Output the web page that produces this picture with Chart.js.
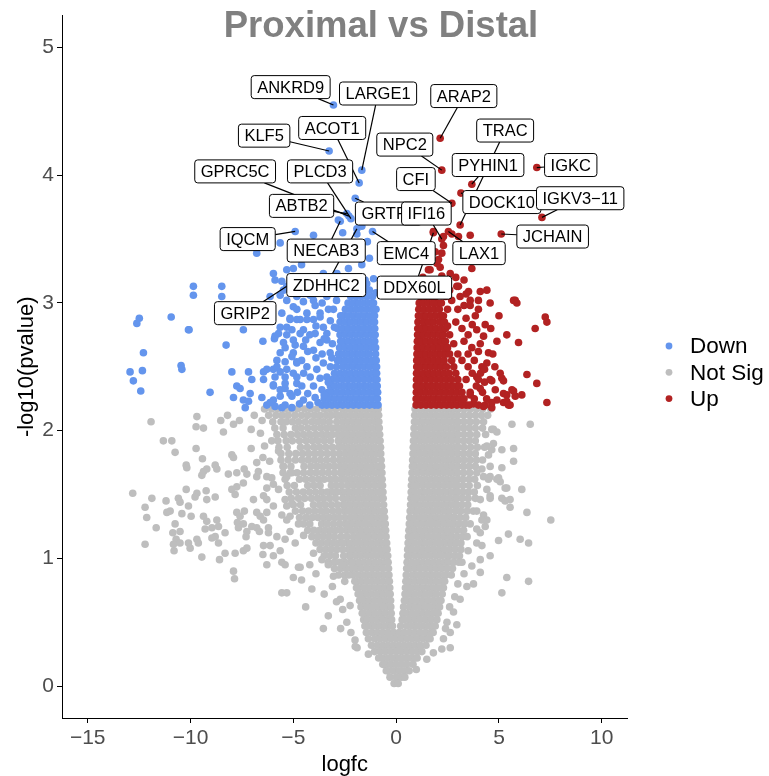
<!DOCTYPE html>
<html><head><meta charset="utf-8">
<script src="https://cdn.jsdelivr.net/npm/chart.js@4/dist/chart.umd.min.js"></script>
<style>html,body{margin:0;padding:0;background:#fff;}#wrap{width:769px;height:776px;}</style>
</head><body><div id="wrap"><canvas id="c" width="769" height="776"></canvas></div>
<script>
// ---------------- DATA ----------------
const categories = ['Down', 'Not Sig', 'Up'];
const xTicks = [-15, -10, -5, 0, 5, 10];
const yTicks = [0, 1, 2, 3, 4, 5];

// Not Sig: dense rows, each [-log10(pvalue), [logfc, ...]]
const notSigRows = [
[2.17,[-2.93,-2.6,-2.34,-2.08,-1.82,-1.56,-1.3,-1.04,-0.87,0.92,1.04,1.3,1.56,1.82,2.08,2.34,2.6,2.86,3.02]],
[2.12,[-2.91,-2.73,-2.47,-2.21,-1.95,-1.69,-1.43,-1.17,-0.98,-0.85,0.9,1.17,1.43,1.69,1.95,2.21,2.47,2.73,2.99]],
[2.07,[-2.89,-2.6,-2.34,-2.08,-1.82,-1.56,-1.3,-1.04,-0.84,0.89,1.04,1.3,1.56,1.82,2.08,2.34,2.6,2.86,3.02]],
[2.02,[-2.87,-2.73,-2.47,-2.21,-1.95,-1.69,-1.43,-1.17,-0.91,-0.82,0.87,1.17,1.43,1.69,1.95,2.21,2.47,2.73,3.0]],
[1.97,[-2.85,-2.6,-2.34,-2.08,-1.82,-1.56,-1.3,-1.04,-0.8,0.86,1.04,1.3,1.56,1.82,2.08,2.34,2.6,2.86,3.02]],
[1.92,[-2.82,-2.73,-2.47,-2.21,-1.95,-1.69,-1.43,-1.17,-0.91,-0.78,0.84,0.91,1.17,1.43,1.69,1.95,2.21,2.47,2.73,3.0]],
[1.87,[-2.8,-2.6,-2.34,-2.08,-1.82,-1.56,-1.3,-1.04,-0.76,0.83,1.04,1.3,1.56,1.82,2.08,2.34,2.6,2.86,3.02]],
[1.82,[-2.76,-2.47,-2.21,-1.95,-1.69,-1.43,-1.17,-0.91,-0.75,0.82,0.91,1.17,1.43,1.69,1.95,2.21,2.47,2.73,3.0]],
[1.77,[-2.76,-2.6,-2.34,-2.08,-1.82,-1.56,-1.3,-1.04,-0.73,0.8,1.04,1.3,1.56,1.82,2.08,2.34,2.6,2.86,3.02]],
[1.72,[-2.73,-2.47,-2.21,-1.95,-1.69,-1.43,-1.17,-0.91,-0.71,0.79,0.91,1.17,1.43,1.69,1.95,2.21,2.47,2.73,2.99]],
[1.67,[-2.71,-2.6,-2.34,-2.08,-1.82,-1.56,-1.3,-1.04,-0.78,-0.69,0.77,1.04,1.3,1.56,1.82,2.08,2.34,2.6,2.86,3.0]],
[1.62,[-2.68,-2.47,-2.21,-1.95,-1.69,-1.43,-1.17,-0.91,-0.68,0.76,0.91,1.17,1.43,1.69,1.95,2.21,2.47,2.73,2.99]],
[1.57,[-2.65,-2.34,-2.08,-1.82,-1.56,-1.3,-1.04,-0.78,-0.66,0.74,0.88,1.04,1.3,1.56,1.82,2.08,2.34,2.6,2.86,2.99]],
[1.52,[-2.63,-2.47,-2.21,-1.95,-1.69,-1.43,-1.17,-0.91,-0.64,0.73,0.91,1.17,1.43,1.69,1.95,2.21,2.47,2.73,2.98]],
[1.47,[-2.6,-2.34,-2.08,-1.82,-1.56,-1.3,-1.04,-0.78,-0.63,0.72,0.88,1.04,1.3,1.56,1.82,2.08,2.34,2.6,2.86,2.97]],
[1.42,[-2.57,-2.47,-2.21,-1.95,-1.69,-1.43,-1.17,-0.91,-0.61,0.7,0.91,1.17,1.43,1.69,1.95,2.21,2.47,2.73,2.94]],
[1.37,[-2.53,-2.34,-2.08,-1.82,-1.56,-1.3,-1.04,-0.78,-0.58,0.68,0.88,1.04,1.3,1.56,1.82,2.08,2.34,2.6,2.89]],
[1.32,[-2.5,-2.21,-1.95,-1.69,-1.43,-1.17,-0.91,-0.65,-0.56,0.66,0.91,1.17,1.43,1.69,1.95,2.21,2.47,2.73,2.84]],
[1.27,[-2.47,-2.34,-2.08,-1.82,-1.56,-1.3,-1.04,-0.78,-0.53,0.64,0.78,1.04,1.3,1.56,1.82,2.08,2.34,2.6,2.79]],
[1.22,[-2.43,-2.21,-1.95,-1.69,-1.43,-1.17,-0.91,-0.65,-0.51,0.62,0.78,0.91,1.17,1.43,1.69,1.95,2.21,2.47,2.74]],
[1.17,[-2.4,-2.08,-1.82,-1.56,-1.3,-1.04,-0.78,-0.49,0.6,0.78,1.04,1.3,1.56,1.82,2.08,2.34,2.6,2.7]],
[1.12,[-2.36,-2.21,-1.95,-1.69,-1.43,-1.17,-0.91,-0.65,-0.46,0.58,0.75,0.91,1.17,1.43,1.69,1.95,2.21,2.47,2.66]],
[1.07,[-2.32,-2.08,-1.82,-1.56,-1.3,-1.04,-0.78,-0.52,-0.44,0.56,0.78,1.04,1.3,1.56,1.82,2.08,2.34,2.62]],
[1.02,[-2.28,-2.21,-1.95,-1.69,-1.43,-1.17,-0.91,-0.65,-0.41,0.55,0.65,0.91,1.17,1.43,1.69,1.95,2.21,2.47,2.58]],
[0.97,[-2.24,-2.08,-1.82,-1.56,-1.3,-1.04,-0.78,-0.52,-0.39,0.53,0.78,1.04,1.3,1.56,1.82,2.08,2.34,2.54]],
[0.92,[-2.17,-1.95,-1.69,-1.43,-1.17,-0.91,-0.65,-0.37,0.51,0.65,0.91,1.17,1.43,1.69,1.95,2.21,2.48]],
[0.87,[-2.09,-1.82,-1.56,-1.3,-1.04,-0.78,-0.52,-0.35,0.49,0.78,1.04,1.3,1.56,1.82,2.08,2.34,2.42]],
[0.82,[-2.01,-1.95,-1.69,-1.43,-1.17,-0.91,-0.65,-0.39,-0.33,0.47,0.65,0.91,1.17,1.43,1.69,1.95,2.21,2.36]],
[0.77,[-1.93,-1.82,-1.56,-1.3,-1.04,-0.78,-0.52,-0.31,0.45,0.6,0.78,1.04,1.3,1.56,1.82,2.08,2.3]],
[0.72,[-1.85,-1.69,-1.43,-1.17,-0.91,-0.65,-0.39,-0.29,0.43,0.65,0.91,1.17,1.43,1.69,1.95,2.24]],
[0.67,[-1.78,-1.56,-1.3,-1.04,-0.78,-0.52,-0.27,0.4,0.52,0.78,1.04,1.3,1.56,1.82,2.08,2.18]],
[0.62,[-1.71,-1.43,-1.17,-0.91,-0.65,-0.39,-0.26,0.36,0.65,0.91,1.17,1.43,1.69,1.95,2.11]],
[0.57,[-1.65,-1.56,-1.3,-1.04,-0.78,-0.52,-0.24,0.33,0.52,0.78,1.04,1.3,1.56,1.82,2.04]],
[0.52,[-1.58,-1.43,-1.17,-0.91,-0.65,-0.39,-0.22,0.29,0.39,0.65,0.91,1.17,1.43,1.69,1.98]],
[0.47,[-1.52,-1.3,-1.04,-0.78,-0.52,-0.26,-0.18,0.22,0.52,0.78,1.04,1.3,1.56,1.82,1.9]],
[0.42,[-1.45,-1.17,-0.91,-0.65,-0.39,-0.12,0.15,0.39,0.65,0.91,1.17,1.43,1.69,1.8]],
[0.37,[-1.35,-1.04,-0.78,-0.52,-0.26,0,0.26,0.52,0.78,1.04,1.3,1.56,1.65]],
[0.32,[-1.2,-0.91,-0.65,-0.39,-0.13,0.13,0.39,0.65,0.91,1.17,1.45]],
[0.27,[-1.05,-0.78,-0.52,-0.26,0,0.26,0.52,0.78,1.04,1.25]],
[0.22,[-0.85,-0.65,-0.39,-0.13,0.13,0.39,0.65,0.91,1.02]],
[0.17,[-0.65,-0.52,-0.26,0,0.26,0.52,0.82]],
[0.12,[-0.48,-0.39,-0.13,0.13,0.39,0.63]],
[0.07,[-0.3,0,0.26,0.42]],
[0.02,[-0.1,0.1]],
// looser outer flanks of the same rows
[2.17,[-6.4,-6.05,-5.75,-5.4,-5.1,-4.8,-4.45,-4.15,-3.85,-3.5,-3.22,3.3,3.6,3.9,4.2,4.6]],
[2.12,[-6.2,-5.85,-5.55,-5.25,-4.92,-4.6,-4.3,-3.98,-3.7,-3.4,-3.15,3.28,3.55,3.85,4.15,4.45]],
[2.07,[-6.0,-5.6,-5.35,-5.05,-4.75,-4.42,-4.1,-3.82,-3.55,-3.25,3.3,3.6,3.9,4.25]],
[2.02,[-5.9,-5.5,-4.9,-4.62,-4.3,-3.98,-3.68,-3.4,-3.12,3.27,3.55,3.85,4.2]],
[1.97,[-5.8,-5.45,-5.12,-4.8,-4.5,-4.2,-3.9,-3.6,-3.35,-3.1,3.3,3.6,3.92,4.35]],
[1.92,[-5.75,-5.35,-5.05,-4.7,-4.38,-4.08,-3.8,-3.5,-3.2,3.28,3.55,3.85]],
[1.87,[-5.7,-5.3,-4.65,-4.32,-4.0,-3.72,-3.42,-3.1,3.3,3.62,3.95,4.3]],
[1.82,[-5.6,-5.22,-4.88,-4.55,-4.25,-3.95,-3.65,-3.35,-3.05,3.27,3.55,3.85]],
[1.77,[-5.6,-5.25,-4.9,-4.58,-4.28,-3.98,-3.68,-3.38,-3.06,3.3,3.6,3.9,4.2]],
[1.72,[-5.5,-5.12,-4.48,-4.15,-3.85,-3.55,-3.27,-3.0,3.27,3.55,3.85]],
[1.67,[-5.5,-5.15,-4.82,-4.5,-4.18,-3.9,-3.6,-3.3,-3.0,3.28,3.58,3.92]],
[1.62,[-5.4,-4.7,-4.4,-4.08,-3.78,-3.5,-3.2,-2.95,3.25,3.55,3.82]],
[1.57,[-5.3,-4.95,-4.3,-4.0,-3.7,-3.15,-2.9,3.25,3.55,3.95]],
[1.52,[-5.2,-4.85,-4.52,-4.22,-3.92,-3.62,-3.35,-3.08,-2.88,3.25,3.52,3.8]],
[1.47,[-5.1,-4.75,-4.45,-4.12,-3.82,-3.55,-3.25,-2.95,3.22,3.5,3.85]],
[1.42,[-5.0,-4.65,-4.02,-3.72,-3.45,-3.15,-2.85,3.2,3.48]],
[1.37,[-4.9,-4.55,-4.25,-3.95,-3.65,-3.38,-3.08,-2.8,3.15,3.45,3.75]],
[1.32,[-4.7,-4.38,-4.08,-3.8,-3.52,-3.25,-2.98,-2.75,3.1,3.38]],
[1.27,[-4.5,-4.2,-3.62,-3.35,-3.05,-2.75,3.05,3.32,3.6]],
[1.22,[-4.3,-4.0,-3.72,-3.45,-3.18,-2.92,-2.68,3.0,3.28]],
[1.17,[-4.1,-3.82,-3.55,-3.28,-3.0,-2.68,2.95,3.22,3.45]],
[1.12,[-3.9,-3.62,-3.35,-3.08,-2.82,-2.6,2.9,3.15]],
[1.07,[-3.7,-3.42,-3.15,-2.88,-2.6,2.88,3.15]],
[1.02,[-3.5,-3.22,-2.95,-2.55,2.84,3.08]],
[0.97,[-3.3,-3.0,-2.75,-2.5,2.8,3.05]],
[0.92,[-3.0,-2.7,-2.42,2.74]],
[0.87,[-2.8,-2.5,-2.3,2.68]]
];

// Not Sig: scattered points [logfc, -log10(pvalue)]
const notSigScatter = [
[-11.92,2.07],[-9.69,2.11],[-8.2,2.12],[-8.53,2.08],[-9.73,2.03],[-9.37,2.02],[-8.4,1.99],[-7.91,2.05],[-7.62,2.08],[-6.52,2.08],
[-7.05,2.01],[-11.32,1.92],[-10.91,1.92],[-10.75,1.83],[-9.73,1.86],[-7.99,1.81],[-7.91,1.79],[-7.05,1.86],[-9.42,1.78],[-10.21,1.73],
[-10.18,1.71],[-8.8,1.73],[-8.72,1.70],[-9.37,1.68],[-9.21,1.70],[-9.45,1.65],[-8.16,1.66],[-7.75,1.67],[-7.39,1.70],[-7.26,1.66],
[-6.78,1.75],[-6.48,1.79],[-6.78,1.64],[-6.7,1.68],[-6.29,1.64],[-6.05,1.63],[-5.72,1.84],[-5.48,1.72],[-5.32,1.64],[-5.07,1.67],
[-7.75,1.56],[-7.43,1.59],[-7.99,1.54],[-7.83,1.5],
[-10.21,1.54],[-9.24,1.53],[-9.69,1.51],[-9.78,1.48],[-8.8,1.48],[-9.21,1.46],[-12.81,1.51],[-11.88,1.47],[-11.19,1.45],[-10.59,1.47],
[-10.51,1.44],[-12.21,1.40],[-12.13,1.32],[-11.67,1.24],[-12.21,1.11],[-11.15,1.36],[-10.99,1.37],[-10.42,1.35],[-10.1,1.41],[-9.97,1.33],
[-10.75,1.27],[-10.86,1.2],[-10.51,1.21],[-10.7,1.15],[-10.83,1.11],[-10.51,1.12],[-10.1,1.12],[-10.02,1.08],[-10.8,1.06],[-9.69,1.15],
[-9.62,1.12],[-9.45,1.01],[-9.37,1.33],[-9.21,1.29],[-9.29,1.23],[-8.96,1.24],[-8.72,1.3],[-8.64,1.25],[-8.32,1.2],[-8.8,1.17],
[-8.96,1.16],[-8.64,1.12],[-8.32,1.04],[-7.83,1.04],[-8.59,0.99],[-7.91,0.9],[-7.86,0.84],[-7.75,1.36],[-7.59,1.33],[-7.38,1.37],
[-7.72,1.28],[-7.43,1.27],[-7.26,1.21],[-7.3,1.17],[-7.67,1.24],[-7.02,1.25],[-6.78,1.24],[-6.65,1.21],[-6.94,1.46],[-6.45,1.49],
[-6.29,1.46],[-5.97,1.41],[-6.29,1.36],[-6.78,1.36],[-6.61,1.33],[-6.45,1.3],[-6.21,1.24],[-6.21,1.2],[-5.97,1.58],[-5.72,1.54],
[-6.29,1.55],[-5.4,1.46],[-5.32,1.41],[-5.07,1.43],[-5.56,1.34],[-5.16,1.33],[-5.32,1.3],[-5.8,1.17],[-5.4,1.15],[-5.16,1.21],
[-4.91,1.12],[-6.45,1.1],[-6.13,1.1],[-5.64,1.06],[-5.97,1.02],[-6.48,1.03],[-6.29,0.95],[-5.56,0.97],[-5.4,0.95],[-5.56,0.73],
[-4.75,0.93],[-7.43,1.06],[-7.26,1.08],[-6.6,1.98],[-6.9,2.12],[-6.4,1.88],[-6.15,1.76],[-6.05,1.92],[-4.75,1.27],[-4.5,1.18],
[-4.2,0.95],[-3.9,0.88],[-4.6,0.83],[-3.1,0.78],[-3.5,0.72],[-2.9,0.66],[-2.6,0.6],[-3.3,0.55],[-2.4,0.5],[-2.2,0.42],
[-1.9,0.3],[-2.0,0.36],[-2.7,0.45],[-5.0,0.85],[-4.4,0.62],[-3.54,0.45],[-1.99,0.31],[-4.1,0.76],[-5.32,0.73],[-4.67,0.93],
[-4.02,1.04],[-3.61,0.99],[-3.05,0.86],[-2.72,0.68],[-2.24,0.63],[-1.35,0.25],[-2.6,0.95],[-2.5,0.82],[-3.3,0.95],
[5.63,2.05],[6.52,2.05],[4.73,2.01],[4.9,1.99],[5.71,1.86],[5.14,1.85],[5.71,1.76],[5.14,1.71],[4.98,1.63],[5.06,1.6],
[5.38,1.55],[6.11,1.54],[5.14,1.47],[5.54,1.46],[5.54,1.4],[6.36,1.36],[7.52,1.3],[5.46,1.19],[4.98,1.14],[6.03,1.15],
[6.44,1.12],[5.38,0.85],[6.44,0.82],[5.14,0.73],[4.41,1.88],[4.49,1.81],[4.57,1.72],[4.25,1.64],
[4.49,1.62],[4.41,1.54],[4.57,1.49],[4.09,1.46],[4.25,1.34],[4.33,1.25],[4.41,1.3],[4.09,1.2],[3.92,1.12],
[4.17,1.1],[4.57,1.02],[4.09,0.99],[3.68,0.94],[4.09,0.89],[3.44,0.78],[3.76,0.8],[3.11,0.68],[2.79,0.58],[2.47,0.5],
[2.63,0.42],[2.3,0.37],[2.63,0.3],[2.22,0.29],[1.49,0.21],[0.98,0.13],[1.81,0.26],[4.65,2.01],
[4.73,1.9],[4.65,1.85],[4.17,1.7],[4.57,1.64],[4.9,1.62],[5.3,1.55],[4.57,1.47],[5.3,1.45],[3.92,1.37],
[4.17,1.3],[3.92,1.23],[3.2,0.97],[3.5,1.06],[3.0,0.8],[2.85,0.7],[2.6,0.62],[3.3,0.88],[2.95,0.48],[2.4,0.45]
];

// Down: dense rows and scattered points
const downRows = [
[2.20,[-3.6,-3.38,-3.12,-2.86,-2.6,-2.34,-2.08,-1.82,-1.56,-1.3,-1.04,-0.88]],
[2.25,[-3.5,-3.25,-2.99,-2.73,-2.47,-2.21,-1.95,-1.69,-1.43,-1.17,-0.91]],
[2.30,[-3.3,-3.12,-2.86,-2.6,-2.34,-2.08,-1.82,-1.56,-1.3,-1.04,-0.9]],
[2.35,[-3.2,-2.99,-2.73,-2.47,-2.21,-1.95,-1.69,-1.43,-1.17,-0.92]],
[2.40,[-3.1,-2.86,-2.6,-2.34,-2.08,-1.82,-1.56,-1.3,-1.04,-0.93]],
[2.45,[-3.0,-2.73,-2.47,-2.21,-1.95,-1.69,-1.43,-1.17,-0.95]],
[2.50,[-2.9,-2.6,-2.34,-2.08,-1.82,-1.56,-1.3,-1.04,-0.95]],
[2.55,[-2.85,-2.73,-2.47,-2.21,-1.95,-1.69,-1.43,-1.17,-0.97]],
[2.60,[-2.8,-2.6,-2.34,-2.08,-1.82,-1.56,-1.3,-1.0]],
[2.65,[-2.75,-2.47,-2.21,-1.95,-1.69,-1.43,-1.17,-1.0]],
[2.70,[-2.7,-2.6,-2.34,-2.08,-1.82,-1.56,-1.3,-1.04]],
[2.75,[-2.73,-2.47,-2.21,-1.95,-1.69,-1.43,-1.17,-1.02]],
[2.80,[-2.86,-2.6,-2.34,-2.08,-1.82,-1.56,-1.3,-1.04]],
[2.85,[-2.73,-2.47,-2.21,-1.95,-1.69,-1.43,-1.17,-1.05]],
[2.90,[-2.6,-2.34,-2.08,-1.82,-1.56,-1.3,-1.05]],
[2.95,[-2.47,-2.21,-1.95,-1.69,-1.43,-1.17,-1.07]],
[3.00,[-2.34,-2.08,-1.82,-1.56,-1.3,-1.1]],
[3.05,[-2.21,-1.95,-1.69,-1.43,-1.15]],
[3.10,[-2.08,-1.82,-1.56,-1.3]],
[3.15,[-1.95,-1.69,-1.43]]
];
const downScatter = [
[-9.86,3.06],[-8.48,3.05],[-6.13,3.05],[-5.56,3.17],[-12.49,2.88],[-12.61,2.84],[-10.94,2.89],[-10.07,2.79],[-7.43,2.79],[-8.27,2.67],
[-6.48,2.7],[-5.92,2.72],[-5.72,2.76],[-5.32,2.75],[-12.29,2.61],[-12.94,2.46],[-12.78,2.39],[-12.34,2.47],[-12.42,2.31],[-10.46,2.51],
[-10.42,2.48],[-9.05,2.3],[-7.99,2.46],[-7.18,2.46],[-7.02,2.4],[-6.45,2.46],[-6.45,2.4],[-7.75,2.35],[-7.59,2.33],[-7.91,2.26],
[-7.43,2.24],[-7.1,2.29],[-6.53,2.26],[-6.29,2.2],[-5.97,2.24],[-5.97,2.48],[-5.64,2.46],[-5.4,2.42],[-5.89,2.42],[-5.97,2.36],
[-5.64,2.32],[-5.4,2.33],[-5.16,2.29],[-4.83,2.37],[-5.0,2.45],[-4.83,2.54],[-5.4,2.54],[-5.0,2.61],[-4.91,2.67],[-5.4,2.65],
[-5.8,2.55],[-5.32,2.81],[-5.07,2.79],[-4.83,2.87],[-5.56,2.92],[-5.0,2.97],[-5.4,2.2],[-5.07,2.18],[-5.56,2.18],[-5.89,2.19],
[-7.34,2.18],[-7.18,2.23],[-5.97,3.23],[-5.89,3.18],[-5.0,3.27],[-5.64,3.06],[-5.32,3.02],[-4.83,3.05],[-4.51,3.01],[-4.18,3.06],
[-3.94,2.98],[-3.37,3.05],[-3.29,2.95],[-5.16,2.88],[-4.67,2.87],[-4.34,2.92],[-4.02,2.87],[-3.7,2.92],[-3.54,2.81],[-4.51,2.79],
[-3.94,2.76],[-5.89,2.74],[-5.48,2.69],[-5.0,2.71],[-5.64,2.61],[-5.07,2.58],[-4.51,2.66],[-4.02,2.63],[-3.7,2.69],[-3.37,2.71],
[-3.21,2.61],[-6.29,2.48],[-5.8,2.5],[-5.32,2.48],[-4.83,2.53],[-4.34,2.5],[-4.18,2.42],[-3.86,2.48],[-3.54,2.53],[-3.37,2.42],
[-4.83,2.42],[-5.4,2.37],[-5.97,2.35],[-4.59,2.35],[-4.02,2.35],[-3.61,2.32],[-3.13,2.57],[-5.64,2.27],[-5.07,2.27],[-4.51,2.24],
[-3.94,2.26],[-6.13,2.22],[-9.86,3.13],[-8.48,3.13],[-10.1,2.79],[-5.48,3.1],[-4.67,3.1],[-4.34,3.08],[-3.86,3.18],[-3.54,3.23],
[-2.88,3.23],[-2.32,3.27],[-1.67,3.3],[-1.51,3.18],[-1.1,3.19],[-0.98,3.08],[-2.08,3.2],[-3.21,3.08],[-4.02,3.02],[-4.83,2.95],
[-4.34,2.87],[-3.7,2.89],[-3.05,2.95],[-0.98,2.95],[-3.0,2.81],[-3.37,2.76],[-4.67,2.76],[-5.64,2.81],[-5.16,2.87],[-5.64,3.47],
[-6.78,3.39],[-4.02,3.53],[-3.94,3.47],[-1.91,3.54],[-1.67,3.6],[-2.81,3.65],[-3.3,3.4],[-2.5,3.45],[-2.1,3.38],[-1.8,3.42],
[-1.3,3.35],[-2.9,3.35],[-3.9,3.35],[-4.6,3.3],[-2.6,3.55],[-1.4,3.48],[-5.32,3.26],[-2.72,3.1],[-2.5,3.15],
[-3.8,2.22],[-4.2,2.2],[-4.7,2.21],[-3.5,2.28],[-4.3,2.29],[-4.8,2.3],[-3.3,2.38],[-3.7,2.41],[-4.5,2.45],[-3.2,2.5],
[-3.6,2.6],[-3.9,2.57],[-4.3,2.62],[-3.1,2.68],[-3.5,2.72],[-4.2,2.75],[-3.2,2.86],[-3.9,2.82],[-4.6,2.55],[-4.4,2.71],
[-2.9,3.02],[-3.6,3.0],[-2.7,2.9]
];

// Up: dense rows and scattered points
const upRows = [
[2.20,[0.97,1.2,1.45,1.7,1.95,2.2,2.45,2.7,2.95,3.2,3.4]],
[2.25,[0.97,1.08,1.33,1.58,1.83,2.08,2.33,2.58,2.83,3.08,3.3]],
[2.30,[0.98,1.2,1.45,1.7,1.95,2.2,2.45,2.7,2.95,3.2]],
[2.35,[0.98,1.08,1.33,1.58,1.83,2.08,2.33,2.58,2.83,3.08]],
[2.40,[0.99,1.2,1.45,1.7,1.95,2.2,2.45,2.7,3.0]],
[2.45,[0.99,1.08,1.33,1.58,1.83,2.08,2.33,2.58,2.9]],
[2.50,[1.0,1.2,1.45,1.7,1.95,2.2,2.45,2.8]],
[2.55,[1.0,1.1,1.33,1.58,1.83,2.08,2.33,2.7]],
[2.60,[1.01,1.22,1.45,1.7,1.95,2.2,2.45,2.6]],
[2.65,[1.02,1.1,1.33,1.58,1.83,2.08,2.33,2.5]],
[2.70,[1.03,1.22,1.45,1.7,1.95,2.2,2.4]],
[2.75,[1.04,1.12,1.33,1.58,1.83,2.08,2.3]],
[2.80,[1.05,1.25,1.45,1.7,1.95,2.2,2.4]],
[2.85,[1.06,1.33,1.58,1.83,2.1,2.35]],
[2.90,[1.08,1.25,1.45,1.7,1.95,2.2]],
[2.95,[1.1,1.35,1.6,1.85,2.1]],
[3.00,[1.12,1.3,1.55,1.8,2.0]],
[3.05,[1.18,1.43,1.68,1.9]],
[3.10,[1.25,1.45,1.7]],
[3.15,[1.35,1.6]]
];
const upScatter = [
[2.3,3.52],[2.71,3.54],[3.03,3.52],[3.6,3.53],[2.22,3.39],[1.98,3.31],[1.65,3.26],[2.14,3.28],[3.68,3.27],[2.95,3.13],
[3.11,3.05],[3.52,3.09],[4.09,3.09],[4.41,3.1],[3.6,3.02],[4.0,2.95],[4.57,3.0],[5.79,3.02],[5.87,3.0],[7.25,2.89],
[7.33,2.85],[6.76,2.8],[5.38,2.75],[5.95,2.69],[4.33,2.83],[3.92,2.79],[4.25,2.74],[4.09,2.68],[3.68,2.65],[4.49,2.61],
[4.41,2.53],[4.17,2.5],[3.92,2.42],[4.57,2.4],[5.06,2.45],[5.14,2.41],[4.82,2.32],[5.38,2.28],[5.63,2.32],[5.79,2.27],
[5.22,2.22],[5.46,2.2],[6.11,2.28],[6.36,2.44],[6.84,2.37],[7.33,2.22],[4.33,2.2],[4.65,2.18],[4.9,2.24],[5.22,2.29],
[5.71,2.31],[4.25,2.19],[4.65,2.22],[5.38,2.23],[5.54,2.2],[4.0,2.4],[4.65,2.39],[5.22,2.39],[4.09,2.33],[3.6,2.28],
[3.76,2.21],[1.9,3.4],[2.06,3.34],[1.57,3.26],[2.22,3.21],[2.63,3.23],[3.03,3.13],[4.0,3.02],[5.71,3.02],[3.4,3.07],
[3.6,2.98],[3.85,2.9],[3.4,2.88],[3.2,2.8],[3.7,2.83],[3.5,2.75],[3.3,2.7],[2.9,2.85],[3.0,2.95],[2.7,3.02],
[2.5,2.95],[2.4,3.05],[2.6,2.75],[2.8,2.68],[3.0,2.6],[3.2,2.55],[3.5,2.5],[3.7,2.45],[3.9,2.35],[3.4,2.4],
[3.6,2.3],[3.8,2.25],[4.0,2.2],[4.2,2.3],[4.4,2.25],[3.55,2.2],[4.1,2.45],[4.3,2.38],[1.3,3.2],[1.5,3.15],
[1.75,3.18],[2.0,3.12],[1.9,3.05],[2.2,3.0],[2.3,2.9],[2.5,2.82],[1.81,3.56],[2.3,3.45],
[3.5,2.6],[3.8,2.55],[4.0,2.62],[3.3,2.98],[2.9,3.2],[3.3,3.18],[2.6,3.1],[4.3,2.48],[4.8,2.5],[4.9,2.7],
[4.6,2.8],[5.0,2.9],[4.7,2.6]
];

// Labelled genes
const labelGenes = ['ANKRD9','LARGE1','ACOT1','KLF5','GPRC5C','PLCD3','ABTB2','GRTP1','IQCM','NECAB3','ZDHHC2','GRIP2','EMC4',
  'DDX60L','ARAP2','NPC2','TRAC','PYHIN1','IGKC','CFI','DOCK10','IGKV3\u221211','IFI16','LAX1','JCHAIN'];
const labelGroup = ['Down','Down','Down','Down','Down','Down','Down','Down','Down','Down','Down','Down','Down',
  'Up','Up','Up','Up','Up','Up','Up','Up','Up','Up','Up','Up'];
const labelLogfc = [-3.05,-1.67,-1.8,-3.26,-2.3,-2.2,-2.4,-1.99,-4.91,-2.72,-1.91,-5.32,-1.15,
  1.81,2.14,2.22,3.11,3.68,6.84,2.71,3.15,7.09,2.22,2.54,5.11];
const labelPval = [4.55,4.04,3.94,4.19,3.68,3.66,3.70,3.82,3.56,3.64,3.58,3.13,3.56,
  3.55,4.29,4.04,3.61,3.93,4.06,3.78,3.86,3.67,3.50,3.56,3.54];
// where each label box sits (axis units: logfc, -log10 pvalue)
const labelBoxLogfc = [-5.13,-0.88,-3.11,-6.42,-7.83,-3.7,-4.6,-0.36,-7.22,-3.4,-3.4,-7.34,0.49,
  0.89,3.29,0.42,5.3,4.47,8.49,0.96,5.14,8.95,1.47,4.03,7.61];
const labelBoxPval = [4.69,4.64,4.37,4.31,4.03,4.03,3.76,3.70,3.50,3.41,3.14,2.92,3.39,
  3.12,4.62,4.24,4.35,4.08,4.08,3.97,3.79,3.82,3.70,3.39,3.52];

// ---------------- BUILD ----------------
const FONT = '"Liberation Sans", Arial, Helvetica, sans-serif';
const COLORS = { 'Down': '#6495ED', 'Not Sig': '#BEBEBE', 'Up': '#B22222' };
function rowsToPoints(rows) { const out = []; rows.forEach(r => r[1].forEach(x => out.push({ x: x, y: r[0] }))); return out; }
function pairsToPoints(p) { return p.map(q => ({ x: q[0], y: q[1] })); }

const seriesData = {
  'Down': rowsToPoints(downRows).concat(pairsToPoints(downScatter)),
  'Not Sig': rowsToPoints(notSigRows).concat(pairsToPoints(notSigScatter)),
  'Up': rowsToPoints(upRows).concat(pairsToPoints(upScatter))
};
labelGenes.forEach((g, i) => seriesData[labelGroup[i]].push({ x: labelLogfc[i], y: labelPval[i] }));

const drawOrder = { 'Down': 1, 'Not Sig': 3, 'Up': 2 };
const datasets = categories.map(c => ({
  label: c, data: seriesData[c], order: drawOrder[c],
  pointRadius: 3.8, pointHoverRadius: 3.8, pointBorderWidth: 0, borderWidth: 0,
  pointBackgroundColor: COLORS[c], backgroundColor: COLORS[c], borderColor: COLORS[c]
}));

const minus = v => (v < 0 ? '\u2212' + Math.abs(v) : String(v));

const decor = {
  id: 'decor',
  afterDatasetsDraw(chart) {
    const ctx = chart.ctx, xs = chart.scales.x, ys = chart.scales.y;
    ctx.save();
    ctx.font = '16.5px ' + FONT;
    const boxes = labelGenes.map((g, i) => {
      const w = ctx.measureText(g).width + 12, h = 23;
      return { g, w, h, cx: xs.getPixelForValue(labelBoxLogfc[i]), cy: ys.getPixelForValue(labelBoxPval[i]),
        px: xs.getPixelForValue(labelLogfc[i]), py: ys.getPixelForValue(labelPval[i]) };
    });
    ctx.strokeStyle = '#000'; ctx.lineWidth = 1.2;
    boxes.forEach(b => {
      const dx = b.px - b.cx, dy = b.py - b.cy;
      const tx = dx === 0 ? Infinity : (b.w / 2) / Math.abs(dx);
      const ty = dy === 0 ? Infinity : (b.h / 2) / Math.abs(dy);
      const t = Math.min(tx, ty);
      if (t >= 1) return;
      ctx.beginPath(); ctx.moveTo(b.px, b.py); ctx.lineTo(b.cx + t * dx, b.cy + t * dy); ctx.stroke();
    });
    boxes.forEach(b => {
      const x = b.cx - b.w / 2, y = b.cy - b.h / 2, r = 3;
      ctx.beginPath();
      ctx.moveTo(x + r, y); ctx.lineTo(x + b.w - r, y); ctx.arcTo(x + b.w, y, x + b.w, y + r, r);
      ctx.lineTo(x + b.w, y + b.h - r); ctx.arcTo(x + b.w, y + b.h, x + b.w - r, y + b.h, r);
      ctx.lineTo(x + r, y + b.h); ctx.arcTo(x, y + b.h, x, y + b.h - r, r);
      ctx.lineTo(x, y + r); ctx.arcTo(x, y, x + r, y, r); ctx.closePath();
      ctx.fillStyle = '#fff'; ctx.fill(); ctx.lineWidth = 1; ctx.strokeStyle = '#000'; ctx.stroke();
      ctx.fillStyle = '#000'; ctx.textAlign = 'center'; ctx.textBaseline = 'middle';
      ctx.fillText(b.g, b.cx, b.cy + 1);
    });
    ctx.font = 'bold 36.5px ' + FONT; ctx.fillStyle = '#808080'; ctx.textAlign = 'center'; ctx.textBaseline = 'alphabetic';
    ctx.fillText('Proximal vs Distal', 381, 37);
    ctx.font = '22.5px ' + FONT; ctx.textAlign = 'left'; ctx.textBaseline = 'middle';
    categories.forEach((c, i) => {
      const y = 346 + i * 26.3;
      ctx.beginPath(); ctx.arc(669, y, 3.4, 0, Math.PI * 2); ctx.fillStyle = COLORS[c]; ctx.fill();
      ctx.fillStyle = '#000'; ctx.fillText(c, 690, y + 1);
    });
    ctx.restore();
  }
};

new Chart(document.getElementById('c'), {
  type: 'scatter',
  data: { datasets },
  options: {
    responsive: false, animation: false, devicePixelRatio: 1, events: [],
    layout: { padding: { left: 0, right: 141.5, top: 14, bottom: 0 } },
    plugins: { legend: { display: false }, tooltip: { enabled: false } },
    scales: {
      x: {
        type: 'linear', min: -16.25, max: 11.25,
        afterBuildTicks: s => { s.ticks = xTicks.map(v => ({ value: v })); },
        afterFit: s => { s.height = 58; },
        grid: { drawOnChartArea: false, drawTicks: true, tickLength: 5, tickColor: '#000', tickWidth: 1 },
        border: { display: true, color: '#000', width: 1 },
        ticks: { color: '#4D4D4D', font: { family: FONT, size: 21 }, padding: 3, maxRotation: 0, autoSkip: false, callback: v => minus(v) },
        title: { display: true, text: 'logfc', color: '#000', font: { family: FONT, size: 22 }, padding: { top: 0, bottom: -2 } }
      },
      y: {
        type: 'linear', min: -0.25, max: 5.25,
        afterBuildTicks: s => { s.ticks = yTicks.map(v => ({ value: v })); },
        afterFit: s => { s.width = 62; },
        grid: { drawOnChartArea: false, drawTicks: true, tickLength: 5, tickColor: '#000', tickWidth: 1 },
        border: { display: true, color: '#000', width: 1 },
        ticks: { color: '#4D4D4D', font: { family: FONT, size: 21 }, padding: 3, autoSkip: false, callback: v => minus(v) },
        title: { display: true, text: '-log10(pvalue)', color: '#000', font: { family: FONT, size: 22 }, padding: { top: 14, bottom: 0 } }
      }
    }
  },
  plugins: [decor]
});
</script>
</body></html>
